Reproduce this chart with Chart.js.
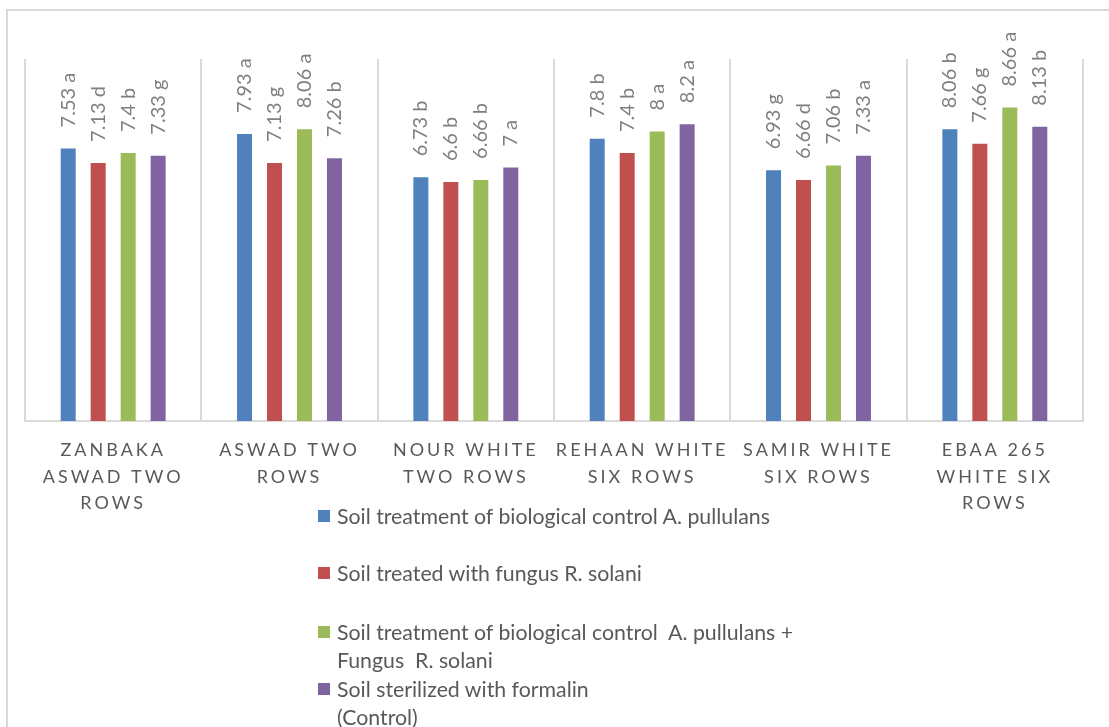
<!DOCTYPE html>
<html>
<head>
<meta charset="utf-8">
<script src="https://cdn.jsdelivr.net/npm/chart.js@4/dist/chart.umd.min.js"></script>
<style>
  html, body { margin: 0; padding: 0; background: #fff; }
  body { width: 1109px; height: 727px; position: relative; overflow: hidden; font-family: Lato, "Open Sans", sans-serif; }
  #frame { position: absolute; left: 6px; top: 9px; width: 1120px; height: 740px; border: 2px solid #d9d9d9; box-sizing: border-box; }
  #wrap { position: absolute; left: 0; top: 0; width: 1109px; height: 727px; }
  #legend { position: absolute; left: 0; top: 0; }
  .item { position: absolute; left: 318px; color: #595959; font-size: 21.3px; line-height: 28px; white-space: pre; }
  .item .sw { position: absolute; left: 0; top: 8px; width: 12px; height: 12px; }
  .item .tx { position: absolute; left: 19px; top: 0; }
</style>
</head>
<body>
<div id="frame"></div>
<div id="wrap"><canvas id="c" width="1109" height="727"></canvas></div>
<div id="legend"></div>
<script>
// Barley cultivars
const categories = [
  ['ZANBAKA', 'ASWAD TWO', 'ROWS'],
  ['ASWAD TWO', 'ROWS'],
  ['NOUR WHITE', 'TWO ROWS'],
  ['REHAAN WHITE', 'SIX ROWS'],
  ['SAMIR WHITE', 'SIX ROWS'],
  ['EBAA 265', 'WHITE SIX', 'ROWS']
];

// Treatments
const seriesNames = [
  ['Soil treatment of biological control A. pullulans'],
  ['Soil treated with fungus R. solani'],
  ['Soil treatment of biological control  A. pullulans +', 'Fungus  R. solani'],
  ['Soil sterilized with formalin', '(Control)']
];
const seriesColors = ['#4F81BD', '#C0504D', '#9BBB59', '#8064A2'];

const pullulans        = [7.53, 7.93, 6.73, 7.8, 6.93, 8.06];
const solani           = [7.13, 7.13, 6.6, 7.4, 6.66, 7.66];
const pullulansSolani  = [7.4, 8.06, 6.66, 8, 7.06, 8.66];
const formalin         = [7.33, 7.26, 7, 8.2, 7.33, 8.13];

// Significance letters shown next to each value
const pullulansLetters       = ['a', 'a', 'b', 'b', 'g', 'b'];
const solaniLetters          = ['d', 'g', 'b', 'b', 'd', 'g'];
const pullulansSolaniLetters = ['b', 'a', 'b', 'a', 'b', 'a'];
const formalinLetters        = ['g', 'b', 'a', 'a', 'a', 'b'];

const seriesValues = [pullulans, solani, pullulansSolani, formalin];
const seriesLetters = [pullulansLetters, solaniLetters, pullulansSolaniLetters, formalinLetters];

// Rotated value labels above each bar
const valueLabels = {
  id: 'valueLabels',
  beforeDraw(chart) {
    // spaced-out capitals for the category axis
    chart.ctx.letterSpacing = '3px';
  },
  afterDatasetsDraw(chart) {
    const ctx = chart.ctx;
    ctx.save();
    ctx.letterSpacing = '0px';
    ctx.font = '20px Lato';
    ctx.fillStyle = '#7f7f7f';
    ctx.textAlign = 'left';
    ctx.textBaseline = 'middle';
    chart.data.datasets.forEach((ds, di) => {
      const meta = chart.getDatasetMeta(di);
      meta.data.forEach((bar, i) => {
        const txt = ds.data[i] + ' ' + seriesLetters[di][i];
        ctx.save();
        ctx.translate(bar.x, bar.y - 21);
        ctx.rotate(-Math.PI / 2);
        ctx.fillText(txt, 0, 0);
        ctx.restore();
      });
    });
    ctx.restore();
  }
};

new Chart(document.getElementById('c'), {
  type: 'bar',
  data: {
    labels: categories,
    datasets: seriesValues.map((vals, k) => ({
      label: seriesNames[k].join(' '),
      data: vals,
      backgroundColor: seriesColors[k],
      borderWidth: 0,
      categoryPercentage: 0.68,
      barPercentage: 0.5
    }))
  },
  options: {
    responsive: false,
    animation: false,
    layout: { padding: { left: 25, right: 26, top: 59, bottom: 0 } },
    plugins: { legend: { display: false }, tooltip: { enabled: false } },
    scales: {
      x: {
        grid: { color: '#d9d9d9', lineWidth: 2, drawTicks: false, offset: true },
        border: { color: '#d9d9d9', width: 2 },
        ticks: {
          color: '#595959',
          font: { family: 'Lato', size: 18, lineHeight: 1.47 },
          padding: 16,
          maxRotation: 0,
          minRotation: 0,
          autoSkip: false
        },
        afterFit(scale) { scale.height = 306; }
      },
      y: { display: false, min: 0, max: 10 }
    }
  },
  plugins: [valueLabels]
});

// Legend: one treatment per row
const legendTops = [502, 559, 618, 675];
const legend = document.getElementById('legend');
seriesNames.forEach((lines, k) => {
  const it = document.createElement('div');
  it.className = 'item';
  it.style.top = legendTops[k] + 'px';
  const sw = document.createElement('div');
  sw.className = 'sw';
  sw.style.background = seriesColors[k];
  const tx = document.createElement('div');
  tx.className = 'tx';
  tx.textContent = lines.join('\n');
  it.appendChild(sw);
  it.appendChild(tx);
  legend.appendChild(it);
});
</script>
</body>
</html>
